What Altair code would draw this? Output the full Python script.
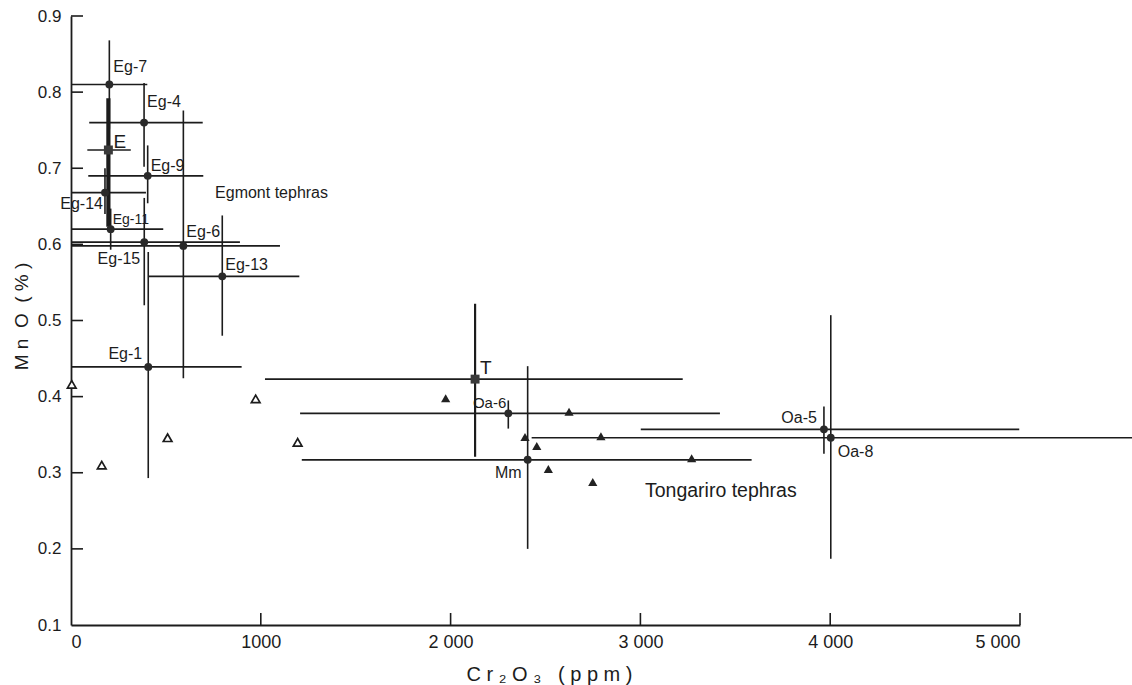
import json
import altair as alt
import pandas as pd

# ---------------- data ----------------
# Analysed tephras (filled circles) and means (squares E, T)
names = ["Eg-7", "Eg-4", "E", "Eg-9", "Eg-14", "Eg-11", "Eg-15", "Eg-6",
         "Eg-13", "Eg-1", "T", "Oa-6", "Mm", "Oa-5", "Oa-8"]
kinds = ["circle", "circle", "square", "circle", "circle", "circle", "circle", "circle",
         "circle", "circle", "square", "circle", "circle", "circle", "circle"]
cr2o3 = [202, 385, 197, 404, 179, 209, 386, 592, 797, 407, 2129, 2304, 2406, 3967, 4003]
mno = [0.810, 0.760, 0.724, 0.690, 0.668, 0.620, 0.603, 0.598, 0.558, 0.439,
       0.423, 0.378, 0.317, 0.357, 0.346]
cr_lo = [0, 96, 86, 91, 0, 0, 0, 0, 407, 0, 1022, 1207, 1216, 3002, 2427]
cr_hi = [402, 694, 315, 697, 395, 486, 890, 1101, 1203, 899, 3223, 3419, 3586, 4996, 5600]
mn_lo = [0.752, 0.702, 0.623, 0.654, 0.640, 0.593, 0.520, 0.424, 0.480, 0.293,
         0.321, 0.358, 0.200, 0.325, 0.187]
mn_hi = [0.868, 0.812, 0.792, 0.730, 0.700, 0.647, 0.661, 0.776, 0.638, 0.590,
         0.522, 0.395, 0.440, 0.387, 0.507]

# Tongariro tephras (filled triangles)
tong_x = [1974, 2624, 2392, 2792, 2454, 3270, 2515, 2749]
tong_y = [0.398, 0.380, 0.347, 0.348, 0.335, 0.319, 0.305, 0.288]

# open triangles
open_x = [4, 973, 509, 1194, 162]
open_y = [0.416, 0.397, 0.346, 0.340, 0.310]

group_names = ["Egmont tephras", "Tongariro tephras"]
group_x = [759, 3024]
group_y = [0.667, 0.276]

x_ticks = [0, 1000, 2000, 3000, 4000, 5000]
x_tick_labels = ["0", "1000", "2 000", "3 000", "4 000", "5 000"]
y_ticks = [0.1, 0.2, 0.3, 0.4, 0.5, 0.6, 0.7, 0.8, 0.9]

NB = "\u00a0"
x_title = NB.join(["C", "r", "₂", "O", "₃", NB, "(", "p", "p", "m", ")"])
y_title = "M n  O  ( % )".replace(" ", NB)

# ---------------- styles ----------------
INK = "#1c1c1c"
FONT = "Liberation Sans"
bar_width = {"E": 4.2, "T": 2.2}
label_style = {  # dx, dy, align, size
    "Eg-7": (4, -18, "left", 16), "Eg-4": (3, -21, "left", 16),
    "E": (5, -8, "left", 19), "Eg-9": (3, -10, "left", 16),
    "Eg-14": (-2, 11, "right", 16), "Eg-11": (2, -9, "left", 14),
    "Eg-15": (-4, 17, "right", 16), "Eg-6": (3, -14, "left", 16),
    "Eg-13": (3, -11, "left", 16), "Eg-1": (-6, -13, "right", 16),
    "T": (5, -11, "left", 19), "Oa-6": (-2, -10, "right", 15),
    "Mm": (-6, 13, "right", 16), "Oa-5": (-7, -11, "right", 16),
    "Oa-8": (7, 14, "left", 16),
}

W, H = 949, 609

df = pd.DataFrame({"name": names, "kind": kinds, "x": cr2o3, "y": mno,
                   "xlo": cr_lo, "xhi": cr_hi, "ylo": mn_lo, "yhi": mn_hi})
df["sw"] = [bar_width.get(n, 1.6) for n in names]
df_t = pd.DataFrame({"x": tong_x, "y": tong_y})
df_o = pd.DataFrame({"x": open_x, "y": open_y})
df_g = pd.DataFrame({"label": group_names, "x": group_x, "y": group_y})
df_xt = pd.DataFrame({"t": x_ticks[1:]})
df_yt = pd.DataFrame({"t": y_ticks[1:]})

xscale = alt.Scale(domain=[0, 5000], nice=False, zero=False)
yscale = alt.Scale(domain=[0.1, 0.9], nice=False, zero=False)

label_expr = json.dumps(x_tick_labels) + "[round(datum.value/1000)]"

xaxis = alt.Axis(values=x_ticks, labelExpr=label_expr, ticks=False, tickSize=0,
                 grid=False, labelPadding=8, labelFontSize=18, labelFont=FONT,
                 labelColor=INK, domainColor=INK, domainWidth=1.8,
                 title=x_title, titleFont=FONT, titleFontSize=20,
                 titleFontWeight="normal", titleColor=INK, titleX=478, titleY=49,
                 titleBaseline="middle", titleAlign="center")
yaxis = alt.Axis(values=y_ticks, format=".1f", ticks=False, tickSize=0, grid=False,
                 labelPadding=10, labelFontSize=17, labelFont=FONT, labelColor=INK,
                 domainColor=INK, domainWidth=1.8,
                 title=y_title, titleFont=FONT, titleFontSize=19,
                 titleFontWeight="normal", titleColor=INK, titleX=-50, titleY=300,
                 titleAlign="center", titleBaseline="middle", titleAngle=270)


def X(f):
    return alt.X(f, type="quantitative", scale=xscale, axis=xaxis)


def Y(f):
    return alt.Y(f, type="quantitative", scale=yscale, axis=yaxis)


base = alt.Chart(df)

hbars = base.mark_rule(color=INK, strokeWidth=1.7).encode(
    x=X("xlo"), x2="xhi", y=Y("y"))
vbars = base.mark_rule(color=INK).encode(
    x=X("x"), y=Y("ylo"), y2="yhi",
    strokeWidth=alt.StrokeWidth("sw:Q", scale=None))

xt = alt.Chart(df_xt).mark_rule(color=INK, strokeWidth=1.6).encode(
    x=X("t"), y=alt.value(H), y2=alt.value(H - 12))
yt = alt.Chart(df_yt).mark_rule(color=INK, strokeWidth=1.6).encode(
    y=Y("t"), x=alt.value(0), x2=alt.value(12))

circles = base.transform_filter(alt.datum.kind == "circle").mark_point(
    shape="circle", filled=True, size=62, color="#2a2a2a", opacity=1).encode(
    x=X("x"), y=Y("y"))
squares = base.transform_filter(alt.datum.kind == "square").mark_point(
    shape="square", filled=True, size=80, color="#3a3a3a", opacity=1).encode(
    x=X("x"), y=Y("y"))
tri_f = alt.Chart(df_t).mark_point(
    shape="triangle-up", filled=True, size=85, color="#222222", opacity=1).encode(
    x=X("x"), y=Y("y"))
tri_o = alt.Chart(df_o).mark_point(
    shape="triangle-up", filled=True, size=75, fill="white", stroke=INK,
    strokeWidth=1.7, opacity=1).encode(x=X("x"), y=Y("y"))

labels = []
for n in names:
    dx, dy, al, fs = label_style[n]
    labels.append(
        base.transform_filter(alt.datum.name == n).mark_text(
            dx=dx, dy=dy, align=al, baseline="middle", font=FONT, fontSize=fs,
            color=INK).encode(x=X("x"), y=Y("y"), text="name:N"))

groups = alt.Chart(df_g).mark_text(
    align="left", baseline="middle", font=FONT, color=INK).encode(
    x=X("x"), y=Y("y"), text="label:N",
    size=alt.Size("label:N", scale=alt.Scale(domain=group_names, range=[16, 19.5]),
                  legend=None))

chart = alt.layer(hbars, vbars, xt, yt, tri_o, tri_f, circles, squares, groups,
                  *labels).properties(
    width=W, height=H,
    autosize=alt.AutoSizeParams(type="none"),
    padding={"left": 71, "top": 16, "right": 112, "bottom": 60},
    background="white",
).configure_view(stroke=None)

chart.save("out.html", embed_options={"renderer": "svg", "actions": False})
